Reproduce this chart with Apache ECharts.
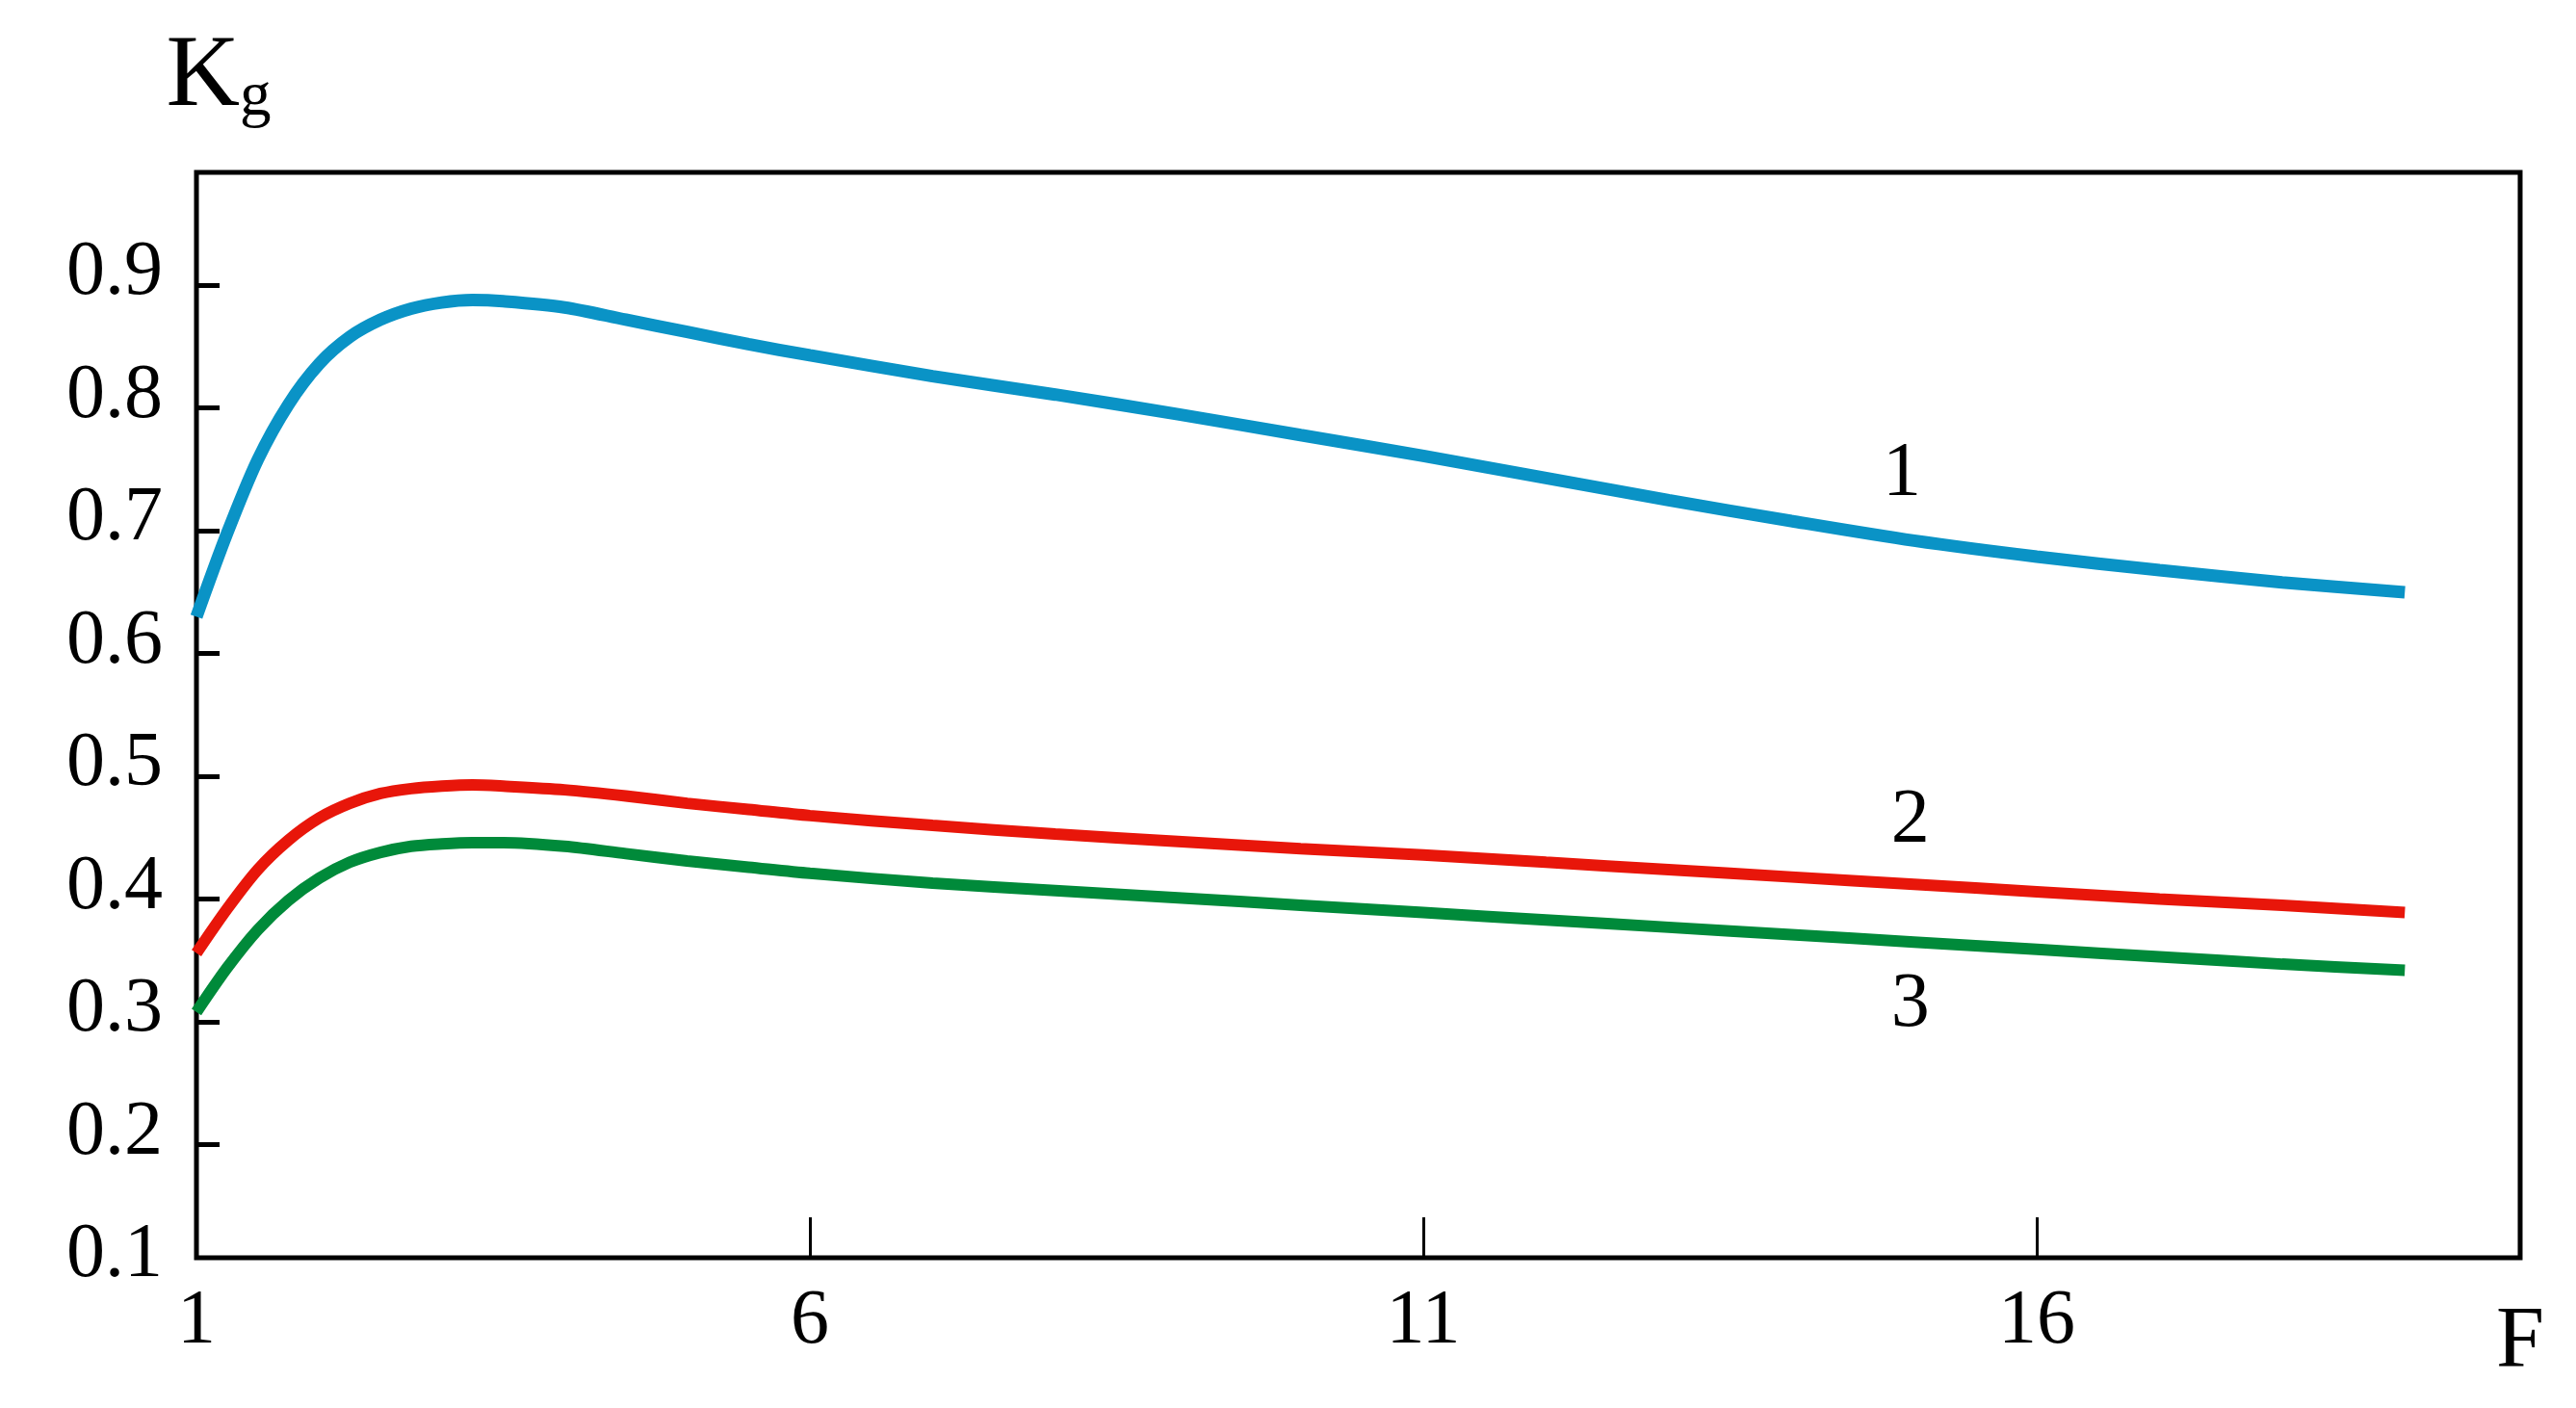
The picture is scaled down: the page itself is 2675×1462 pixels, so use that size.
<!DOCTYPE html>
<html>
<head>
<meta charset="utf-8">
<script src="https://cdn.jsdelivr.net/npm/echarts@6/dist/echarts.min.js"></script>
<style>
html,body{margin:0;padding:0;background:#fff;}
#chart{width:2675px;height:1462px;}
</style>
</head>
<body>
<div id="chart"></div>
<script>
// ---- data ----
const fValues = [1, 1.25, 1.5, 1.75, 2, 2.25, 2.5, 2.75, 3, 3.25, 3.5, 4, 4.5, 5, 5.5, 6, 7, 8, 9, 10, 11, 12, 13, 14, 15, 16, 17, 18, 19];
const curve1 = [0.630, 0.698, 0.758, 0.803, 0.836, 0.858, 0.872, 0.881, 0.886, 0.888, 0.887, 0.882, 0.872, 0.862, 0.852, 0.843, 0.826, 0.811, 0.795, 0.778, 0.761, 0.743, 0.725, 0.708, 0.692, 0.679, 0.668, 0.658, 0.650];
const curve2 = [0.356, 0.392, 0.424, 0.448, 0.466, 0.478, 0.486, 0.490, 0.492, 0.493, 0.492, 0.489, 0.484, 0.478, 0.473, 0.468, 0.460, 0.453, 0.447, 0.441, 0.436, 0.430, 0.424, 0.418, 0.412, 0.406, 0.400, 0.395, 0.389];
const curve3 = [0.308, 0.344, 0.375, 0.399, 0.417, 0.430, 0.438, 0.443, 0.445, 0.446, 0.446, 0.443, 0.437, 0.431, 0.426, 0.421, 0.413, 0.407, 0.401, 0.395, 0.389, 0.383, 0.377, 0.371, 0.365, 0.359, 0.353, 0.347, 0.342];
const curveNames = ['1', '2', '3'];
const curveLabelPos = [[14.9, 0.746], [14.97, 0.463], [14.97, 0.313]];
const xTicks = [1, 6, 11, 16];
const yTicks = [0.1, 0.2, 0.3, 0.4, 0.5, 0.6, 0.7, 0.8, 0.9];
const xRange = [1, 19.94];
const yRange = [0.1078, 0.992];
const yLabelLift = 0.0094; // labels sit slightly above their ticks in the reference

const FONT = 'Liberation Serif';
const colors = ['#0a93c6', '#e8160a', '#008a3a'];
const curves = [curve1, curve2, curve3];

const yTickVals = yTicks.filter(v => v >= yRange[0]);
const yLabelVals = yTicks.map(v => v + yLabelLift);

const chart = echarts.init(document.getElementById('chart'), null, {renderer: 'canvas'});
const option = {
  backgroundColor: '#ffffff',
  animation: false,
  grid: {
    left: 204, top: 179, right: 58, bottom: 156,
    show: true, borderColor: '#000', borderWidth: 5, backgroundColor: '#fff'
  },
  graphic: [{
    type: 'text', left: 2592, top: 1350, z: 10,
    style: {text: 'F', fontFamily: FONT, fontSize: 90, fill: '#000'}
  }],
  xAxis: {
    type: 'value', min: xRange[0], max: xRange[1],
    axisLine: {show: false},
    splitLine: {show: false},
    axisTick: {show: true, inside: true, length: 42, customValues: xTicks, lineStyle: {color: '#000', width: 3}},
    axisLabel: {show: true, customValues: xTicks, margin: 27, fontFamily: FONT, fontSize: 80, color: '#000'}
  },
  yAxis: {
    type: 'value', min: yRange[0], max: yRange[1],
    name: '{k|K}{g|g}', nameLocation: 'end', nameGap: 45,
    nameTextStyle: {
      align: 'center', verticalAlign: 'bottom', padding: [0, 0, 0, 46],
      rich: {
        k: {fontFamily: FONT, fontSize: 106, color: '#000', verticalAlign: 'bottom'},
        g: {fontFamily: FONT, fontSize: 65, color: '#000', verticalAlign: 'bottom'}
      }
    },
    axisLine: {show: false},
    splitLine: {show: false},
    axisTick: {show: true, inside: true, length: 24, customValues: yTickVals, lineStyle: {color: '#000', width: 5}},
    axisLabel: {
      show: true, customValues: yLabelVals, margin: 35, fontFamily: FONT, fontSize: 80, color: '#000',
      formatter: v => (Math.round((v - yLabelLift) * 10) / 10).toFixed(1)
    }
  },
  series: curves.map((c, i) => ({
    type: 'line', name: curveNames[i],
    data: fValues.map((f, j) => [f, c[j]]),
    smooth: 0.3, showSymbol: false, clip: true,
    lineStyle: {color: colors[i], width: i === 0 ? 13 : 12, cap: 'butt'},
    z: 3
  })).concat([{
    type: 'scatter',
    data: curveLabelPos.map((p, i) => ({value: p, name: curveNames[i]})),
    symbolSize: 1, itemStyle: {color: 'rgba(0,0,0,0)'},
    label: {show: true, position: 'inside', formatter: p => p.name, fontFamily: FONT, fontSize: 80,
      color: '#000', textBorderWidth: 0, textBorderColor: 'transparent', opacity: 1},
    z: 4, silent: true
  }])
};
chart.setOption(option);
</script>
</body>
</html>
